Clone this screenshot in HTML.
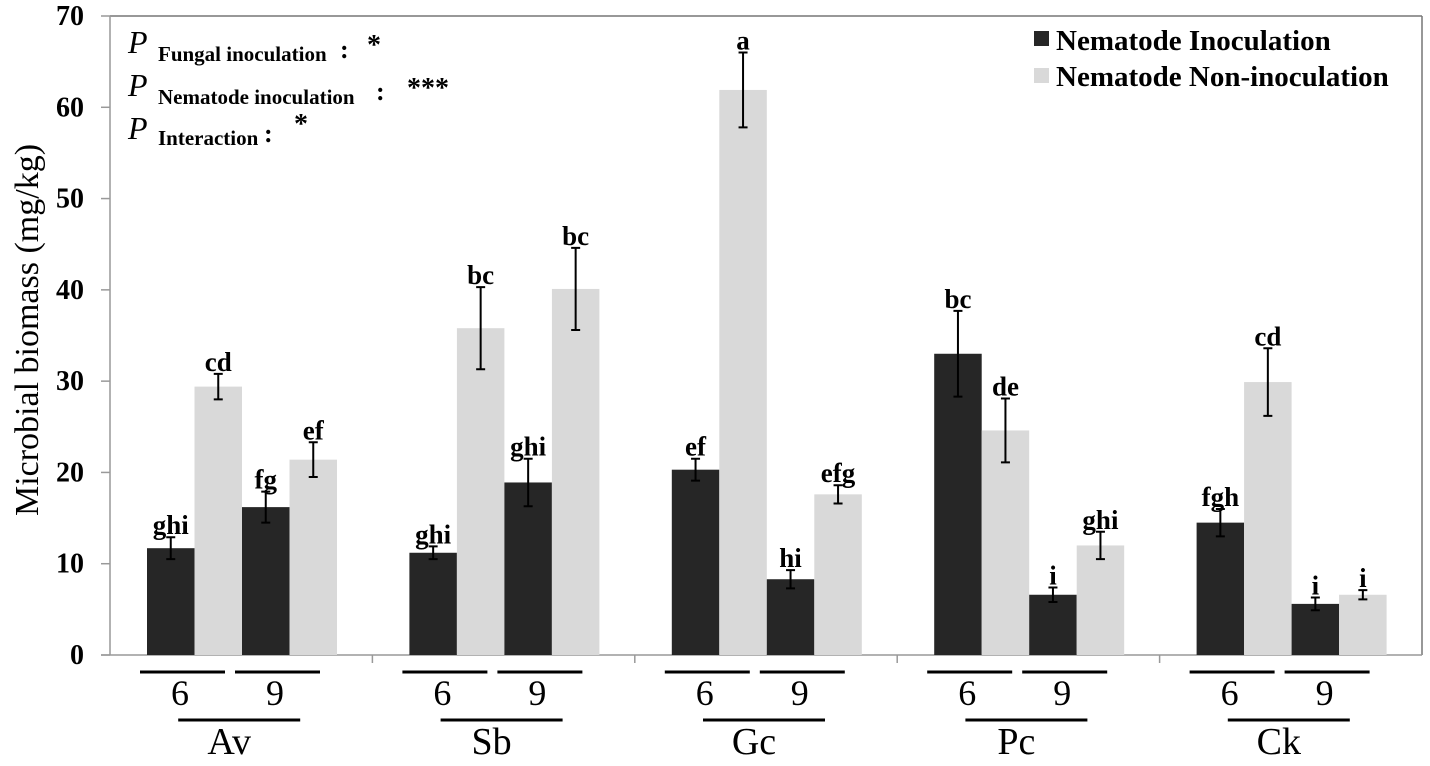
<!DOCTYPE html>
<html><head><meta charset="utf-8"><style>
body{margin:0;background:#fff;}
svg text{font-family:"Liberation Serif",serif;}
</style></head><body>
<svg id="chart" width="1430" height="761" viewBox="0 0 1430 761" xmlns="http://www.w3.org/2000/svg">
<rect x="0" y="0" width="1430" height="761" fill="#fff"/>
<g id="frame">
<line x1="110" y1="16" x2="1422" y2="16" stroke="#777" stroke-width="1.5"/>
<line x1="1422" y1="16" x2="1422" y2="655" stroke="#777" stroke-width="1.5"/>
<line x1="110" y1="16" x2="110" y2="655" stroke="#999" stroke-width="1.5"/>
<line x1="101" y1="655" x2="1422" y2="655" stroke="#999" stroke-width="1.5"/>
</g>
<g id="yaxis"></g>
<g id="bars"></g>
<g id="xaxis"></g>
<text transform="translate(38,330) rotate(-90)" text-anchor="middle" font-size="34">Microbial biomass (mg/kg)</text>
<g font-weight="bold">
<text x="128" y="53" font-size="32" font-style="italic" font-weight="normal">P</text>
<text x="158" y="61" font-size="21">Fungal inoculation</text><text x="340" y="58" font-size="26">:</text><text x="367" y="54" font-size="28">*</text>
<text x="128" y="96" font-size="32" font-style="italic" font-weight="normal">P</text>
<text x="158" y="104" font-size="21">Nematode inoculation</text><text x="376" y="100" font-size="26">:</text><text x="407" y="97" font-size="28">***</text>
<text x="128" y="139" font-size="32" font-style="italic" font-weight="normal">P</text>
<text x="158" y="145" font-size="21">Interaction</text><text x="264" y="142" font-size="26">:</text><text x="294" y="133" font-size="28">*</text>
</g>
<g font-weight="bold" font-size="29">
<g><rect x="1034" y="31" width="15" height="15" fill="#262626"/><text x="1056" y="50">Nematode Inoculation</text></g>
<g><rect x="1034" y="68" width="15" height="15" fill="#d9d9d9"/><text x="1056" y="86">Nematode Non-inoculation</text></g>
</g>
</svg>
<script>
const groups=["Av","Sb","Gc","Pc","Ck"];
const times=["6","9"];
const inocVals=[11.7,16.2, 11.2,18.9, 20.3,8.3, 33.0,6.6, 14.5,5.6];
const inocErr=[1.2,1.7, 0.7,2.6, 1.2,1.0, 4.7,0.8, 1.5,0.7];
const inocLetters=["ghi","fg","ghi","ghi","ef","hi","bc","i","fgh","i"];
const nonVals=[29.4,21.4, 35.8,40.1, 61.9,17.6, 24.6,12.0, 29.9,6.6];
const nonErr=[1.4,1.9, 4.5,4.5, 4.1,1.0, 3.5,1.5, 3.7,0.5];
const nonLetters=["cd","ef","bc","bc","a","efg","de","ghi","cd","i"];
const yTicks=[0,10,20,30,40,50,60,70];
const NS="http://www.w3.org/2000/svg";
const y0=655,yTop=16,yMax=70;
const y=v=>y0-(v/yMax)*(y0-yTop);
const gx0=110,gw=262.4,bw=47.5,off=37;
const bx=(g,t,s)=>gx0+g*gw+off+(t*2+s)*bw;
function mk(tag,attrs,parent){const e=document.createElementNS(NS,tag);for(const k in attrs)e.setAttribute(k,attrs[k]);parent.appendChild(e);return e;}
const ya=document.getElementById('yaxis'),bars=document.getElementById('bars'),xa=document.getElementById('xaxis');
yTicks.forEach(t=>{
  const l=mk('line',{x1:101,x2:110,y1:y(t),y2:y(t),stroke:'#999','stroke-width':1.5},ya);
  
  
  const tx=mk('text',{x:84,y:y(t)+9,'text-anchor':'end','font-size':28,'font-weight':'bold'},ya);
  tx.textContent=t;
  
  
});
function drawBar(g,t,s,v,e,lab){
  const x=bx(g,t,s);
  const r=mk('rect',{x:x,y:y(v),width:bw,height:y0-y(v),fill:s?'#d9d9d9':'#262626'},bars);
  
  
  const cx=x+bw/2;
  const eb=mk('path',{d:`M${cx} ${y(v+e)}V${y(v-e)}M${cx-4.5} ${y(v+e)}H${cx+4.5}M${cx-4.5} ${y(v-e)}H${cx+4.5}`,stroke:'#000','stroke-width':2,fill:'none'},bars);
  
  
  const tx=mk('text',{x:cx,y:y(v+e)-3,'text-anchor':'middle','font-size':27,'font-weight':'bold'},bars);
  tx.textContent=lab;
  
  
}
groups.forEach((gn,g)=>{
  times.forEach((tn,t)=>{
    const i=g*2+t;
    drawBar(g,t,0,inocVals[i],inocErr[i],inocLetters[i]);
    drawBar(g,t,1,nonVals[i],nonErr[i],nonLetters[i]);
    const lx=bx(g,t,0)-7;
    const ln=mk('line',{x1:lx,x2:lx+85,y1:672,y2:672,stroke:'#000','stroke-width':3},xa);
    
    
    const tt=mk('text',{x:lx+40,y:705,'text-anchor':'middle','font-size':36},xa);
    tt.textContent=tn;
    
    
  });
  const gc=gx0+g*gw+gw/2-2;
  const gl=mk('line',{x1:gc-61,x2:gc+61,y1:720,y2:720,stroke:'#000','stroke-width':3},xa);
  
  
  const gt=mk('text',{x:gc-10,y:754,'text-anchor':'middle','font-size':38},xa);
  gt.textContent=gn;
  
  
  if(g>0){
    const tk=mk('line',{x1:gx0+g*gw,x2:gx0+g*gw,y1:655,y2:663,stroke:'#999','stroke-width':1.5},xa);
    
    
  }
});
</script>
</body></html>
